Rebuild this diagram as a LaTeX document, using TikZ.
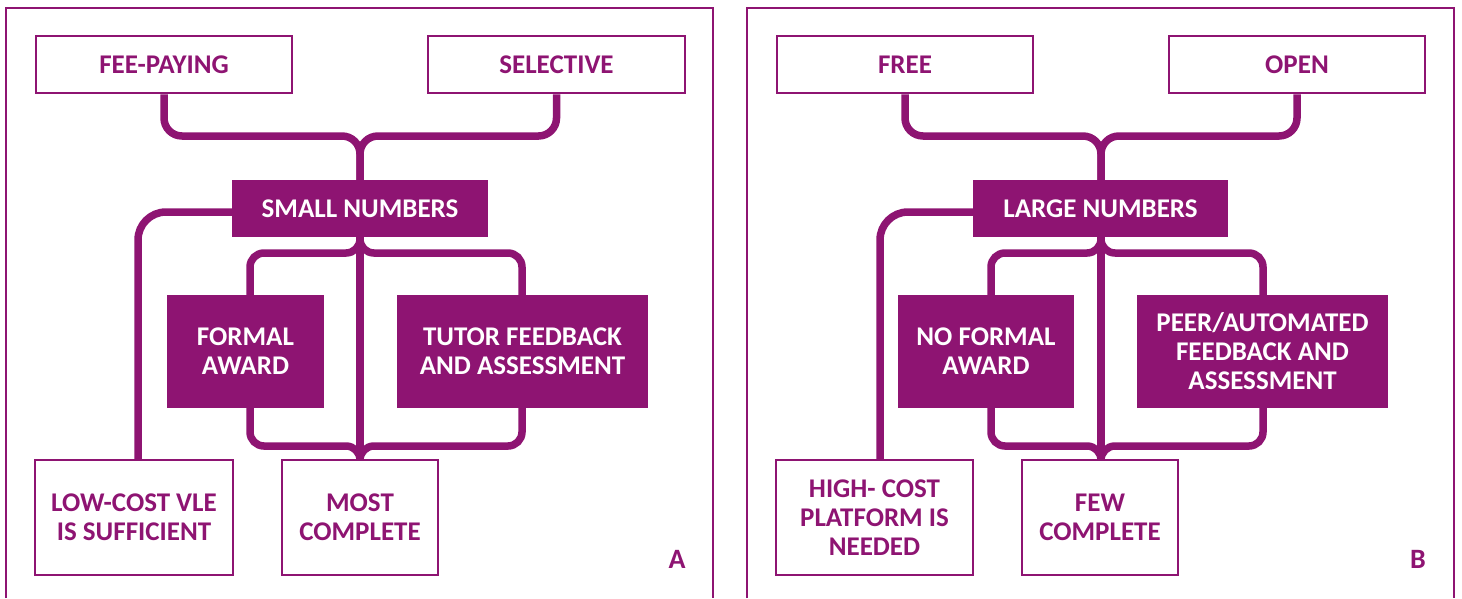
\documentclass[tikz,border=0pt]{standalone}
\usepackage{fontspec}
\setmainfont{Carlito}
\definecolor{plum}{RGB}{142,20,114}
\tikzstyle{outline} = [rectangle, draw=plum, line width=2.5pt, fill=white, text=plum, font=\bfseries\fontsize{27}{29}\selectfont, align=center, inner sep=0pt]
\tikzstyle{fillbox} = [rectangle, fill=plum, text=white, font=\bfseries\fontsize{27}{29}\selectfont, align=center, inner sep=0pt]
\tikzstyle{link} = [draw=plum, line width=7.5pt]
\tikzstyle{frame} = [draw=plum, line width=2.5pt]

\begin{document}
\begin{tikzpicture}[x=1pt, y=-1pt]
        \useasboundingbox (0,0) rectangle (1462,598);
        \draw[frame] (6,598) -- (6,8) -- (713,8) -- (713,598);
        \draw[frame] (747,598) -- (747,8) -- (1454,8) -- (1454,598);

        \node[outline, minimum width=256pt, minimum height=57pt] (fee) at (164,64.5) {FEE-PAYING};
        \node[outline, minimum width=257pt, minimum height=57pt] (sel) at (556.5,64.5) {SELECTIVE};
        \node[fillbox, minimum width=256pt, minimum height=57pt] (small) at (360,208.5) {SMALL NUMBERS};
        \node[fillbox, minimum width=157pt, minimum height=113pt] (formal) at (245.5,351.5) {FORMAL\\AWARD};
        \node[fillbox, minimum width=251pt, minimum height=113pt] (tutor) at (522.5,351.5) {TUTOR FEEDBACK\\AND ASSESSMENT};
        \node[outline, minimum width=198pt, minimum height=115pt] (lowcost) at (134,517.5) {LOW-COST VLE\\IS SUFFICIENT};
        \node[outline, minimum width=156pt, minimum height=115pt] (most) at (360,517.5) {MOST\\COMPLETE};
        \node[text=plum, font=\bfseries\fontsize{28}{30}\selectfont] (labA) at (677,559) {A};

        \coordinate (topA) at (360,136);
        \coordinate (leftA) at (138,212);
        \coordinate (brlA) at (250,253);
        \coordinate (brrA) at (522,253);
        \coordinate (botA) at (360,446);

        \draw[link, rounded corners=18pt] (fee.south) |- (topA) -- (small.north);
        \draw[link, rounded corners=18pt] (sel.south) |- (topA) -- (small.north);
        \draw[link, rounded corners=28pt] (small.west |- leftA) -| (leftA |- lowcost.north);
        \draw[link] (small.south) -- (most.north);
        \draw[link, rounded corners=14pt] (small.south) |- (brlA) -- (brlA |- formal.north);
        \draw[link, rounded corners=14pt] (small.south) |- (brrA) -- (brrA |- tutor.north);
        \draw[link, rounded corners=14pt] (formal.south -| brlA) |- (botA) -- (most.north);
        \draw[link, rounded corners=14pt] (tutor.south -| brrA) |- (botA) -- (most.north);

        \node[outline, minimum width=256pt, minimum height=57pt] (free) at (905,64.5) {FREE};
        \node[outline, minimum width=256pt, minimum height=57pt] (open) at (1297,64.5) {OPEN};
        \node[fillbox, minimum width=255pt, minimum height=57pt] (large) at (1100.5,208.5) {LARGE NUMBERS};
        \node[fillbox, minimum width=176pt, minimum height=113pt] (noformal) at (986,351.5) {NO FORMAL\\AWARD};
        \node[fillbox, minimum width=251pt, minimum height=113pt] (peer) at (1262.5,351.5) {PEER/AUTOMATED\\FEEDBACK AND\\ASSESSMENT};
        \node[outline, minimum width=197pt, minimum height=115pt] (highcost) at (874.5,517.5) {HIGH- COST\\PLATFORM IS\\NEEDED};
        \node[outline, minimum width=156pt, minimum height=115pt] (few) at (1100,517.5) {FEW\\COMPLETE};
        \node[text=plum, font=\bfseries\fontsize{28}{30}\selectfont] (labB) at (1418,559) {B};

        \coordinate (topB) at (1101,136);
        \coordinate (leftB) at (880,212);
        \coordinate (brlB) at (991,253);
        \coordinate (brrB) at (1263,253);
        \coordinate (botB) at (1101,446);

        \draw[link, rounded corners=18pt] (free.south) |- (topB) -- (topB |- large.north);
        \draw[link, rounded corners=18pt] (open.south) |- (topB) -- (topB |- large.north);
        \draw[link, rounded corners=28pt] (large.west |- leftB) -| (leftB |- highcost.north);
        \draw[link] (topB |- large.south) -- (topB |- few.north);
        \draw[link, rounded corners=14pt] (topB |- large.south) |- (brlB) -- (brlB |- noformal.north);
        \draw[link, rounded corners=14pt] (topB |- large.south) |- (brrB) -- (brrB |- peer.north);
        \draw[link, rounded corners=14pt] (noformal.south -| brlB) |- (botB) -- (botB |- few.north);
        \draw[link, rounded corners=14pt] (peer.south -| brrB) |- (botB) -- (botB |- few.north);
\end{tikzpicture}
\end{document}
